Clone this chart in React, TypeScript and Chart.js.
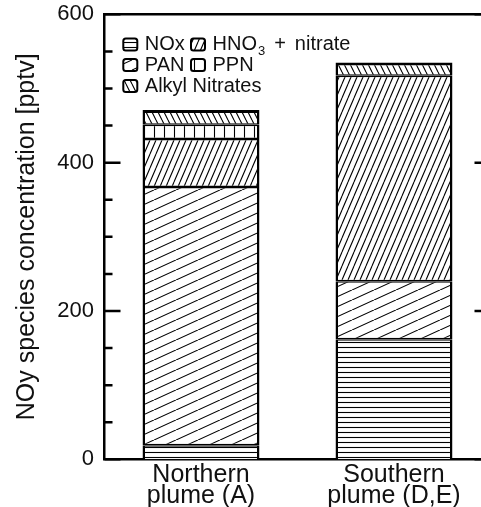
import React, { useEffect, useRef } from "react";
import { Chart, registerables } from "chart.js";

Chart.register(...registerables);

// ---------- data ----------
const categories: string[][] = [
  ["Northern", "plume (A)"],
  ["Southern", "plume (D,E)"],
];
const seriesNames = ["NOx", "PAN", "HNO3 + nitrate", "PPN", "Alkyl Nitrates"];
const noxValues = [19, 162];
const panValues = [348, 78];
const hno3Values = [65, 277];
const ppnValues = [19, 0];
const alkylValues = [20, 18];
const yMin = 0;
const yMax = 600;
const yMajorStep = 200;
const yMinorStep = 50;
const yTitle = "NOy species concentration [pptv]";

const FONT = "'Liberation Sans', Arial, Helvetica, sans-serif";
const INK = "#111";

type Kind = "horizontal" | "shallow" | "dense" | "vertical" | "back";

function makePattern(kind: Kind): CanvasPattern | string {
  const c = document.createElement("canvas");
  let w = 4;
  let h = 4;
  if (kind === "horizontal") { w = 4; h = 5; }
  if (kind === "shallow") { w = 22; h = 10; }
  if (kind === "dense") { w = 6; h = 14; }
  if (kind === "vertical") { w = 10; h = 4; }
  if (kind === "back") { w = 6; h = 12; }
  c.width = w;
  c.height = h;
  const g = c.getContext("2d");
  if (!g) return "#fff";
  g.fillStyle = "#fff";
  g.fillRect(0, 0, w, h);
  g.strokeStyle = "#000";
  g.lineWidth = 1.1;
  g.beginPath();
  if (kind === "horizontal") {
    g.moveTo(0, 2.5);
    g.lineTo(w, 2.5);
  } else if (kind === "vertical") {
    g.moveTo(4.5, 0);
    g.lineTo(4.5, h);
  } else if (kind === "back") {
    for (const k of [-1, 0, 1]) {
      g.moveTo(k * w, 0);
      g.lineTo(k * w + w, h);
    }
  } else {
    for (const k of [-1, 0, 1]) {
      g.moveTo(k * w, h);
      g.lineTo(k * w + w, 0);
    }
  }
  g.stroke();
  const p = g.createPattern(c, "repeat");
  return p || "#fff";
}

const seriesKinds: Kind[] = ["horizontal", "shallow", "dense", "vertical", "back"];

function drawIcon(ctx: CanvasRenderingContext2D, x: number, y: number, fill: any) {
  const w = 14;
  const h = 12;
  const r = 2.5;
  ctx.save();
  ctx.beginPath();
  ctx.moveTo(x + r, y);
  ctx.lineTo(x + w - r, y);
  ctx.quadraticCurveTo(x + w, y, x + w, y + r);
  ctx.lineTo(x + w, y + h - r);
  ctx.quadraticCurveTo(x + w, y + h, x + w - r, y + h);
  ctx.lineTo(x + r, y + h);
  ctx.quadraticCurveTo(x, y + h, x, y + h - r);
  ctx.lineTo(x, y + r);
  ctx.quadraticCurveTo(x, y, x + r, y);
  ctx.closePath();
  ctx.fillStyle = fill;
  ctx.fill();
  ctx.lineWidth = 2;
  ctx.strokeStyle = "#000";
  ctx.stroke();
  ctx.restore();
}

const framePlugin = {
  id: "frameAndLegend",
  afterDraw(chart: any) {
    const ctx: CanvasRenderingContext2D = chart.ctx;
    const a = chart.chartArea;
    const ys = chart.scales.y;
    ctx.save();
    ctx.strokeStyle = "#000";
    ctx.lineWidth = 2.5;
    ctx.lineCap = "butt";
    // top frame + right axis
    ctx.beginPath();
    ctx.moveTo(a.left - 1.25, a.top);
    ctx.lineTo(a.right + 1.25, a.top);
    ctx.moveTo(a.right, a.top);
    ctx.lineTo(a.right, a.bottom);
    ctx.stroke();
    // inward ticks on both vertical axes
    ctx.beginPath();
    for (let v = yMin; v <= yMax; v += yMinorStep) {
      const py = ys.getPixelForValue(v);
      const len = v % yMajorStep === 0 ? 16 : 8;
      ctx.moveTo(a.left, py);
      ctx.lineTo(a.left + len, py);
      ctx.moveTo(a.right, py);
      ctx.lineTo(a.right - len, py);
    }
    ctx.stroke();

    // legend
    const rows = [[0, 2], [1, 3], [4]];
    const colX = [18.8, 86.5];
    const rowY = [30.2, 50.7, 71.7];
    ctx.textBaseline = "middle";
    ctx.textAlign = "left";
    rows.forEach((row, ri) => {
      row.forEach((di, ci) => {
        const ds = chart.data.datasets[di];
        const ix = a.left + colX[ci];
        const cy = a.top + rowY[ri];
        drawIcon(ctx, ix, cy - 6, ds.backgroundColor);
        const tx = ix + 14 + 7.5;
        ctx.fillStyle = INK;
        const name: string = ds.label;
        if (name.startsWith("HNO3")) {
          ctx.font = `20px ${FONT}`;
          ctx.fillText("HNO", tx, cy);
          const w1 = ctx.measureText("HNO").width;
          ctx.font = `13px ${FONT}`;
          ctx.fillText("3", tx + w1 + 1, cy + 7);
          const w2 = ctx.measureText("3").width;
          ctx.font = `20px ${FONT}`;
          const px = tx + w1 + 1 + w2 + 9;
          ctx.fillText("+", px, cy);
          const w3 = ctx.measureText("+").width;
          ctx.fillText("nitrate", px + w3 + 9, cy);
        } else {
          ctx.font = `20px ${FONT}`;
          ctx.fillText(name, tx, cy);
        }
      });
    });
    ctx.restore();
  },
};

export default function App() {
  const ref = useRef<HTMLCanvasElement | null>(null);

  useEffect(() => {
    if (!ref.current) return;
    const seriesValues = [noxValues, panValues, hno3Values, ppnValues, alkylValues];
    const datasets = seriesNames.map((name, i) => ({
      label: name,
      data: seriesValues[i],
      backgroundColor: makePattern(seriesKinds[i]),
      borderColor: "#000",
      borderWidth: {
        top: i === seriesNames.length - 1 ? 3 : 1.5,
        bottom: i === 0 ? 0 : 1.5,
        left: 2.5,
        right: 2.5,
      },
      borderSkipped: false,
      barPercentage: 0.606,
      categoryPercentage: 1,
      stack: "s",
    }));

    const chart = new Chart(ref.current, {
      type: "bar",
      data: { labels: categories, datasets: datasets as any },
      plugins: [framePlugin],
      options: {
        animation: false,
        responsive: false,
        maintainAspectRatio: false,
        layout: { padding: { top: 14.3, right: 9.5, bottom: 0, left: 0 } },
        plugins: {
          legend: { display: false },
          tooltip: { enabled: false },
        },
        scales: {
          x: {
            stacked: true,
            grid: { display: false, drawTicks: false },
            border: { display: true, color: "#000", width: 2.5 },
            ticks: {
              color: INK,
              font: { family: FONT, size: 25, lineHeight: 0.86 },
              padding: 4.6,
              maxRotation: 0,
              autoSkip: false,
            },
            afterFit: (s: any) => {
              s.height = 47.7;
              s.paddingLeft = 0;
              s.paddingRight = 0;
            },
          },
          y: {
            stacked: true,
            min: yMin,
            max: yMax,
            grid: { display: false, drawTicks: false },
            border: { display: true, color: "#000", width: 2.5 },
            ticks: {
              stepSize: yMajorStep,
              color: INK,
              font: { family: FONT, size: 22 },
              padding: 10.5,
            },
            title: {
              display: true,
              text: yTitle,
              color: INK,
              font: { family: FONT, size: 25, lineHeight: 1 },
              padding: { top: 15, bottom: 0 },
            },
            afterFit: (s: any) => {
              s.width = 104.5;
              s.paddingTop = 0;
              s.paddingBottom = 0;
            },
          },
        },
      } as any,
    });
    return () => chart.destroy();
  }, []);

  return (
    <div
      style={{
        position: "absolute",
        left: 0,
        top: 0,
        width: 481,
        height: 507,
        overflow: "hidden",
        background: "#fff",
      }}
    >
      <canvas ref={ref} width={500} height={507} style={{ display: "block" }} />
    </div>
  );
}
